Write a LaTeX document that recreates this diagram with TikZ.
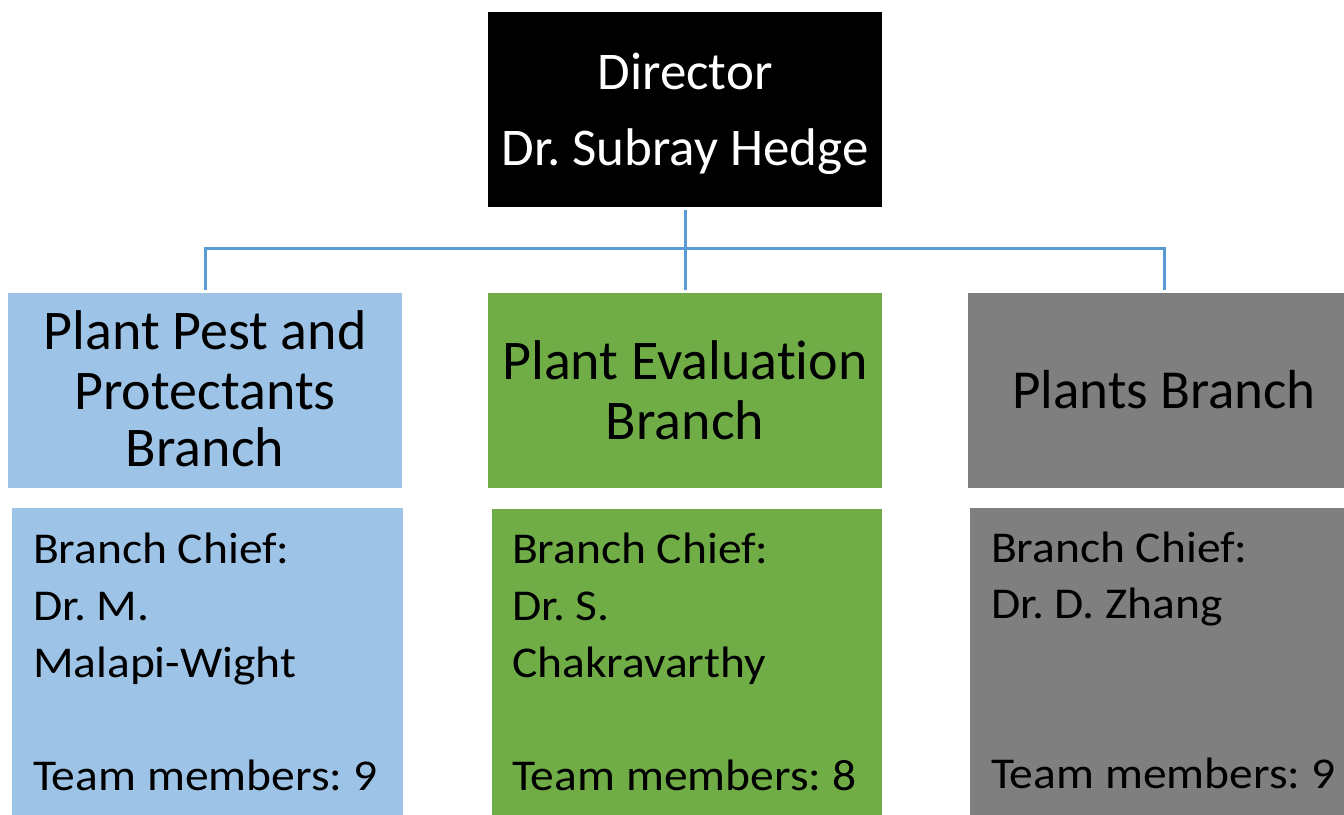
\documentclass[tikz,border=0pt]{standalone}
\usepackage{fontspec}
\setmainfont{Carlito}[Ligatures=NoCommon]
\newfontfamily\lowfont{Carlito}[FakeStretch=1.08,Ligatures=NoCommon]
\definecolor{cblue}{HTML}{9DC3E6}
\definecolor{cgreen}{HTML}{70AD47}
\definecolor{cgray}{HTML}{7F7F7F}
\definecolor{cline}{HTML}{5B9BD5}
\frenchspacing
\begin{document}
\begin{tikzpicture}[x=1pt,y=-1pt,
  box/.style={draw=none,inner sep=0,outer sep=0,anchor=north west},
  txt/.style={inner sep=0,outer sep=0,anchor=base},
  ltxt/.style={inner sep=0,outer sep=0,anchor=base west,font=\lowfont\fontsize{44}{44}\selectfont},
  conn/.style={draw=cline,line width=3pt}]
\useasboundingbox[fill=white] (0,0) rectangle (1344,814);
% boxes
\node[box,fill=black,minimum width=394pt,minimum height=195pt] (dir) at (488,12) {};
\node[box,fill=cblue,minimum width=394pt,minimum height=195pt] (b1) at (8,293) {};
\node[box,fill=cgreen,minimum width=394pt,minimum height=195pt] (b2) at (488,293) {};
\node[box,fill=cgray,minimum width=394pt,minimum height=195pt] (b3) at (968,293) {};
\node[box,fill=cblue,minimum width=391pt,minimum height=310pt] (c1) at (12,508) {};
\node[box,fill=cgreen,minimum width=390pt,minimum height=310pt] (c2) at (492,509) {};
\node[box,fill=cgray,minimum width=394pt,minimum height=310pt] (c3) at (970,508) {};
% connectors
\coordinate (bus) at (685,248);
\draw[conn] ([yshift=-3pt]dir.south) -- ([yshift=3pt]b2.north);
\draw[conn] ([yshift=3pt]b1.north) |- (bus) -| ([yshift=3pt,xshift=-1pt]b3.north);
% director text
\node[txt,text=white,font=\fontsize{53}{53}\selectfont] (d1) at (685,89) {Director};
\node[txt,text=white,font=\fontsize{53}{53}\selectfont] (d2) at (685,165) {Dr. Subray Hedge};
% branch titles
\node[txt,font=\fontsize{56}{56}\selectfont] (t11) at (205,349) {Plant Pest and};
\node[txt,font=\fontsize{56}{56}\selectfont] (t12) at (205,409) {Protectants};
\node[txt,font=\fontsize{56}{56}\selectfont] (t13) at (205,466) {Branch};
\node[txt,font=\fontsize{56}{56}\selectfont] (t21) at (685,379) {Plant Evaluation};
\node[txt,font=\fontsize{56}{56}\selectfont] (t22) at (685,439) {Branch};
\node[txt,font=\fontsize{55}{55}\selectfont] (t31) at (1164,408) {Plants Branch};
% details
\node[ltxt] (l11) at (33,563) {Branch Chief:};
\node[ltxt] (l12) at (33,620) {Dr. M.};
\node[ltxt] (l13) at (33,677) {Malapi-Wight};
\node[ltxt] (l14) at (33,790) {Team members: 9};
\node[ltxt] (l21) at (512,563) {Branch Chief:};
\node[ltxt] (l22) at (512,620) {Dr. S.};
\node[ltxt] (l23) at (512,677) {Chakravarthy};
\node[ltxt] (l24) at (512,790) {Team members: 8};
\node[ltxt] (l31) at (991,562) {Branch Chief:};
\node[ltxt] (l32) at (991,618) {Dr. D. Zhang};
\node[ltxt] (l34) at (991,788) {Team members: 9};
\end{tikzpicture}
\end{document}
